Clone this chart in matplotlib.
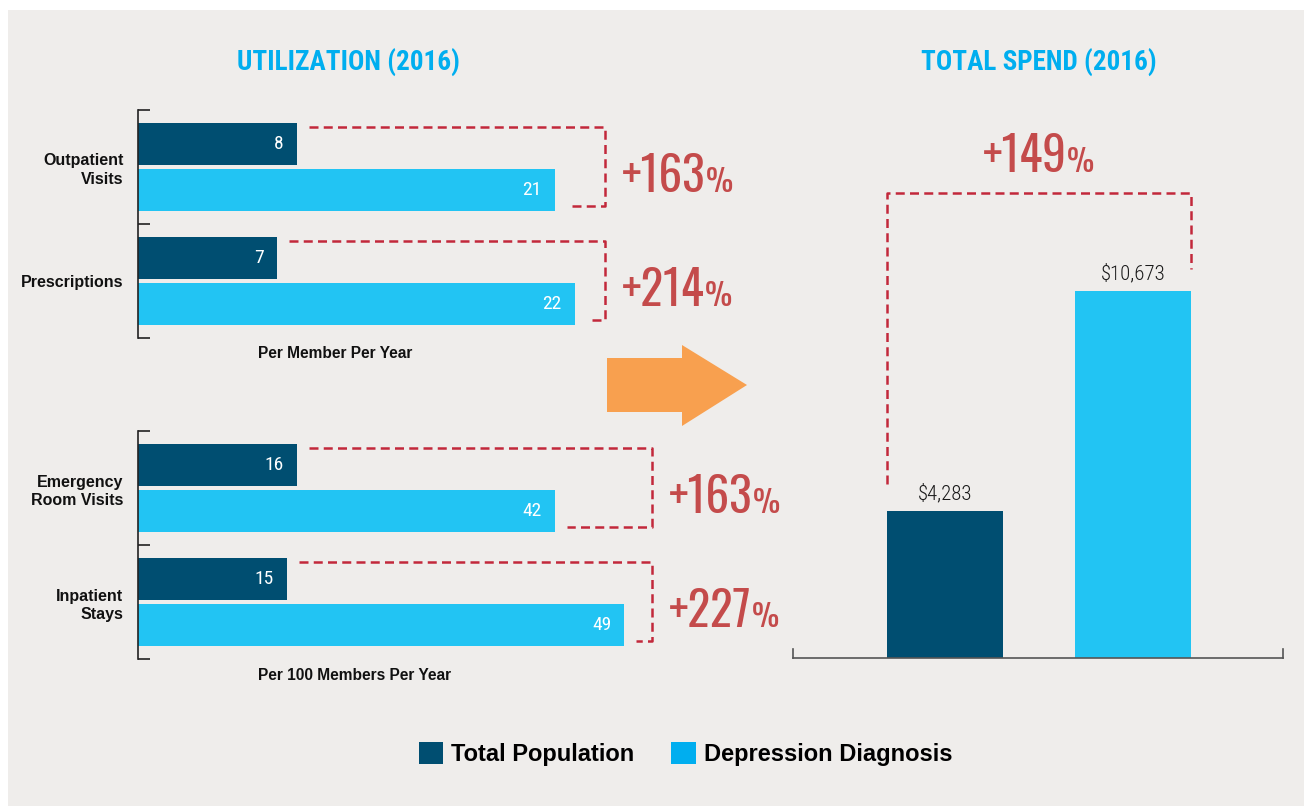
import matplotlib
matplotlib.use("Agg")
import matplotlib.pyplot as plt
from matplotlib import font_manager as fm
from matplotlib.patches import Rectangle, Polygon, Patch

W, H, DPI = 1304, 806, 100

# ---------------- data ----------------
top_categories = ["Outpatient\nVisits", "Prescriptions"]
top_total = [8, 7]
top_depression = [21, 22]
top_change = ["+163", "+214"]
top_unit = "Per Member Per Year"

bottom_categories = ["Emergency\nRoom Visits", "Inpatient\nStays"]
bottom_total = [16, 15]
bottom_depression = [42, 49]
bottom_change = ["+163", "+227"]
bottom_unit = "Per 100 Members Per Year"

spend_series = ["Total Population", "Depression Diagnosis"]
spend_values = [4283, 10673]
spend_change = "+149"

titles = ["UTILIZATION (2016)", "TOTAL SPEND (2016)"]

# ---------------- style ----------------
DARK = "#004e71"
LIGHT = "#22c4f3"
LEGEND_LIGHT = "#00aeef"
TITLE_BLUE = "#00aeef"
RED_LINE = "#c2283b"
RED_TEXT = "#c44b4b"
ORANGE = "#f8a04f"
BG = "#efedeb"
SANS = "Liberation Sans"

names = {f.name for f in fm.fontManager.ttflist}


def first_font(prefs, fallback):
    for p in prefs:
        if p in names:
            return dict(family=p)
    return dict(family=fallback)


PCT = first_font(["Oswald", "Fjalla One", "Antonio", "Barlow Condensed",
                  "Roboto Condensed"], "DejaVu Sans")
COND = first_font(["Roboto Condensed", "Barlow Condensed"], "DejaVu Sans")

fig = plt.figure(figsize=(W / DPI, H / DPI), dpi=DPI, facecolor="white")
bgax = fig.add_axes([0, 0, 1, 1], zorder=0)
bgax.set_xlim(0, W)
bgax.set_ylim(H, 0)
bgax.axis("off")
bgax.add_patch(Rectangle((8, 10), W - 8, H - 10, color=BG, lw=0))
bgax.add_patch(Polygon([(607, 358), (682, 358), (682, 345), (747, 385),
                        (682, 426), (682, 412), (607, 412)], closed=True,
                       color=ORANGE, lw=0))


def px_axes(x0, y0, x1, y1):
    ax = fig.add_axes([x0 / W, 1 - y1 / H, (x1 - x0) / W, (y1 - y0) / H], zorder=2)
    ax.set_facecolor("none")
    return ax


def dashed(ax, xs, ys, **kw):
    ln, = ax.plot(xs, ys, color=RED_LINE, lw=1.8, clip_on=False,
                  solid_joinstyle="miter", dash_capstyle="butt", **kw)
    ln.set_dashes((3.6, 2.1))
    return ln


pct_groups = []  # (anchor_x_px, baseline_px, number, mode)


def util_panel(y0, cats, total, depr, change, unit, pxu, bracket_px):
    ax = px_axes(138, y0, 654, y0 + 228)
    ax.set_xlim(0, 516 / pxu)
    ax.set_ylim(2, 0)
    centers = [0.5, 1.5]
    off, h = 23 / 114, 42 / 114
    ax.barh([c - off for c in centers], total, height=h, color=DARK, lw=0)
    ax.barh([c + off for c in centers], depr, height=h, color=LIGHT, lw=0)
    for s in ["top", "right", "bottom"]:
        ax.spines[s].set_visible(False)
    ax.spines["left"].set_color("#222222")
    ax.spines["left"].set_linewidth(1.2)
    ax.set_xticks([])
    ax.set_yticks([0, 1, 2], labels=[])
    ax.tick_params(axis="y", which="major", direction="in", length=8.6,
                   width=1.2, color="#222222")
    ax.set_yticks(centers, labels=cats, minor=True, fontsize=11.5,
                  fontweight="bold", family=SANS, color="#111111",
                  linespacing=1.3)
    ax.tick_params(axis="y", which="minor", length=0, pad=10.5)
    for i, c in enumerate(centers):
        for val, yy in ((total[i], c - off), (depr[i], c + off)):
            ax.annotate(str(val), xy=(val, yy), xytext=(-13 * 0.72, 0),
                        textcoords="offset points", ha="right", va="center",
                        color="white", fontsize=14, **COND)
        xr = (bracket_px - 138) / pxu
        ys, ye = i + 0.15, i + 0.845
        dashed(ax, [total[i] + 12 / pxu, xr, xr, depr[i] + 12 / pxu],
               [ys, ys, ye, ye])
        pct_groups.append((bracket_px + 17, y0 + 57 + 114 * i + 25, change[i], "left"))
    bgax.text(258, y0 + 244, unit, ha="left", va="center", fontsize=11.2,
              fontweight="bold", family=SANS, color="#111111")
    return ax


util_panel(110, top_categories, top_total, top_depression, top_change,
           top_unit, 19.85, 605)
util_panel(431, bottom_categories, bottom_total, bottom_depression,
           bottom_change, bottom_unit, 9.925, 652)

# ---------------- spend panel ----------------
PXU_Y = 0.0344
ax2 = px_axes(793, 130, 1283, 658)
ax2.set_xlim(-0.81, 1.80)
ax2.set_ylim(0, 528 / PXU_Y)
bw = 0.617
ax2.bar([0, 1], spend_values, width=bw, color=[DARK, LIGHT], lw=0)
for s in ["top", "right", "left"]:
    ax2.spines[s].set_visible(False)
ax2.spines["bottom"].set_color("#555555")
ax2.spines["bottom"].set_linewidth(1.2)
ax2.set_xticks([])
ax2.set_yticks([])
for xa in (0, 1):
    ax2.plot([xa, xa], [0, 9 / 528], transform=ax2.transAxes, color="#555555",
             lw=1.2, clip_on=False)
for i, v in enumerate(spend_values):
    ax2.annotate(f"${v:,}", xy=(i, v), xytext=(0, 11 * 0.72),
                 textcoords="offset points", ha="center", va="baseline",
                 fontsize=15, fontweight="light", color="#1a1a1a", **COND)
dashed(ax2, [-bw / 2, -bw / 2, 1 + bw / 2, 1 + bw / 2],
       [spend_values[0] + 27 / PXU_Y, (658 - 193) / PXU_Y, (658 - 193) / PXU_Y,
        spend_values[1] + 22 / PXU_Y])
pct_groups.append((1039, 172, spend_change, "center"))

# ---------------- titles ----------------
bgax.text(348, 71, titles[0], ha="center", va="baseline", fontsize=19.5,
          fontweight="bold", color=TITLE_BLUE, **COND)
bgax.text(1039, 71, titles[1], ha="center", va="baseline", fontsize=19.5,
          fontweight="bold", color=TITLE_BLUE, **COND)

# ---------------- percent labels ----------------
renderer = fig.canvas.get_renderer()
for x, base, num, mode in pct_groups:
    t1 = bgax.text(x, base, num, ha="left", va="baseline", fontsize=34,
                   color=RED_TEXT, **PCT)
    t2 = bgax.text(x, base, "%", ha="left", va="baseline", fontsize=22,
                   color=RED_TEXT, **PCT)
    w1 = t1.get_window_extent(renderer=renderer).width
    w2 = t2.get_window_extent(renderer=renderer).width
    start = x if mode == "left" else x - (w1 + w2) / 2
    t1.set_x(start)
    t2.set_x(start + w1)

# ---------------- legend ----------------
handles = [Patch(facecolor=DARK, edgecolor="none"),
           Patch(facecolor=LEGEND_LIGHT, edgecolor="none")]
fig.legend(handles, spend_series, loc="center left",
           bbox_to_anchor=(419 / W, 1 - 754 / H), ncol=2, frameon=False,
           prop=dict(family=SANS, weight="bold", size=17),
           handlelength=1.02, handleheight=1.02, handletextpad=0.34,
           columnspacing=1.57, borderpad=0, borderaxespad=0)

fig.savefig("out.png", dpi=DPI, facecolor=fig.get_facecolor())
